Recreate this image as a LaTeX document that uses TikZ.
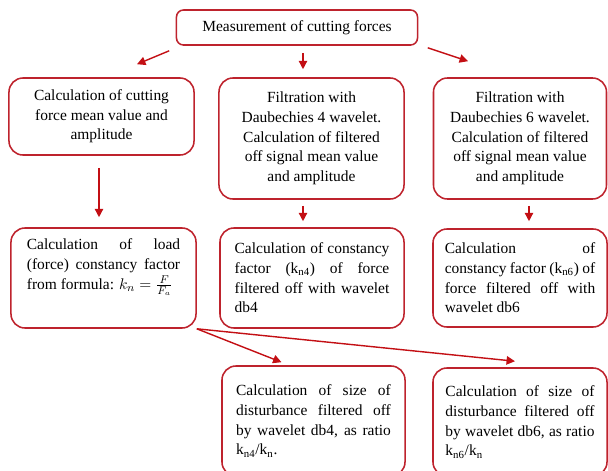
\documentclass[tikz,border=0pt]{standalone}
\usepackage{fontspec}
\setmainfont{Liberation Serif}
\usepackage{tikz}
\usetikzlibrary{positioning,calc,arrows.meta}
\definecolor{boxred}{RGB}{190,35,45}
\definecolor{arrred}{RGB}{195,15,20}

\begin{document}
\begin{tikzpicture}[x=0.025cm, y=-0.025cm,
			stepbox/.style={rectangle, draw=boxred, line width=1.1pt, rounded corners=10pt, inner sep=0pt, font=\fontsize{11}{14}\selectfont},
			cbox/.style={stepbox, align=center, minimum width=4.625cm},
			jbox/.style={stepbox, align=justify, text width=110pt},
			arr/.style={-{Triangle[length=6pt,width=6pt]}, draw=arrred, line width=1pt},
		]

		\useasboundingbox (0,0) rectangle (608,470);

		\node[stepbox, rounded corners=5pt, minimum width=6.025cm, minimum height=0.875cm] (meas) at (297,27.5) {Measurement of cutting forces};

		% first row, centred text
		\node[cbox, minimum height=1.925cm] (meanA) at (101.5,116.5) {Calculation of cutting\\force mean value and\\amplitude};
		\node[cbox, minimum height=3.025cm] (filtB) at (311.5,138.5) {Filtration with\\Daubechies 4 wavelet.\\Calculation of filtered\\off signal mean value\\and amplitude};
		\node[cbox, minimum width=4.325cm, minimum height=3.025cm] (filtC) at (520,138.5) {Filtration with\\Daubechies 6 wavelet.\\Calculation of filtered\\off signal mean value\\and amplitude};

		% second row, justified text
		\node[jbox, text width=109pt, minimum width=4.625cm, minimum height=2.5cm] (constD) at (103.5,278) {Calculation of load\linebreak (force) constancy factor\linebreak from formula: $k_n=\frac{F}{F_a}$\\\strut};
		\node[jbox, minimum width=4.6cm, minimum height=2.5cm] (constE) at (312,278) {Calculation of constancy\linebreak factor (k\textsubscript{n4}) of force\linebreak filtered off with wavelet\linebreak db4};
		\node[jbox, text width=107pt, minimum width=4.35cm, minimum height=2.45cm] (constF) at (520,278) {Calculation of\linebreak constancy factor (k\textsubscript{n6}) of\linebreak force filtered off with\linebreak wavelet db6};

		% third row
		\node[jbox, minimum width=4.575cm, minimum height=2.75cm] (sizeG) at (313.5,421) {Calculation of size of\linebreak disturbance filtered off\linebreak by wavelet db4, as ratio\linebreak k\textsubscript{n4}/k\textsubscript{n}.};
		\node[jbox, text width=106pt, minimum width=4.35cm, minimum height=2.7cm] (sizeH) at (520,422) {Calculation of size of\linebreak disturbance filtered off\linebreak by wavelet db6, as ratio\linebreak k\textsubscript{n6}/k\textsubscript{n}};

		\draw[arr] ($(meas.south west)+(-6.5,5)$) -- ($(meanA.north)+(35.5,-13)$);
		\draw[arr] ($(meas.south)+(6,7)$) -- ($(filtB.north)+(-8.5,-8)$);
		\draw[arr] ($(meas.south east)+(9.5,2)$) -- ($(filtC.north)+(-52,-16)$);

		\draw[arr] ($(meanA.south)+(-2.5,12)$) -- ($(constD.north)+(-4.5,-10)$);
		\draw[arr] ($(filtB.south)+(-8.5,6)$) -- ($(constE.north)+(-9,-6)$);
		\draw[arr] ($(filtC.south)+(9,6)$) -- ($(constF.north)+(9,-7)$);

		\draw[arr] (constD.south east) -- ($(sizeG.north)+(-32,-3)$);
		\draw[arr] (constD.south east) -- ($(sizeH.north)+(-5,-6)$);

	\end{tikzpicture}
\end{document}
